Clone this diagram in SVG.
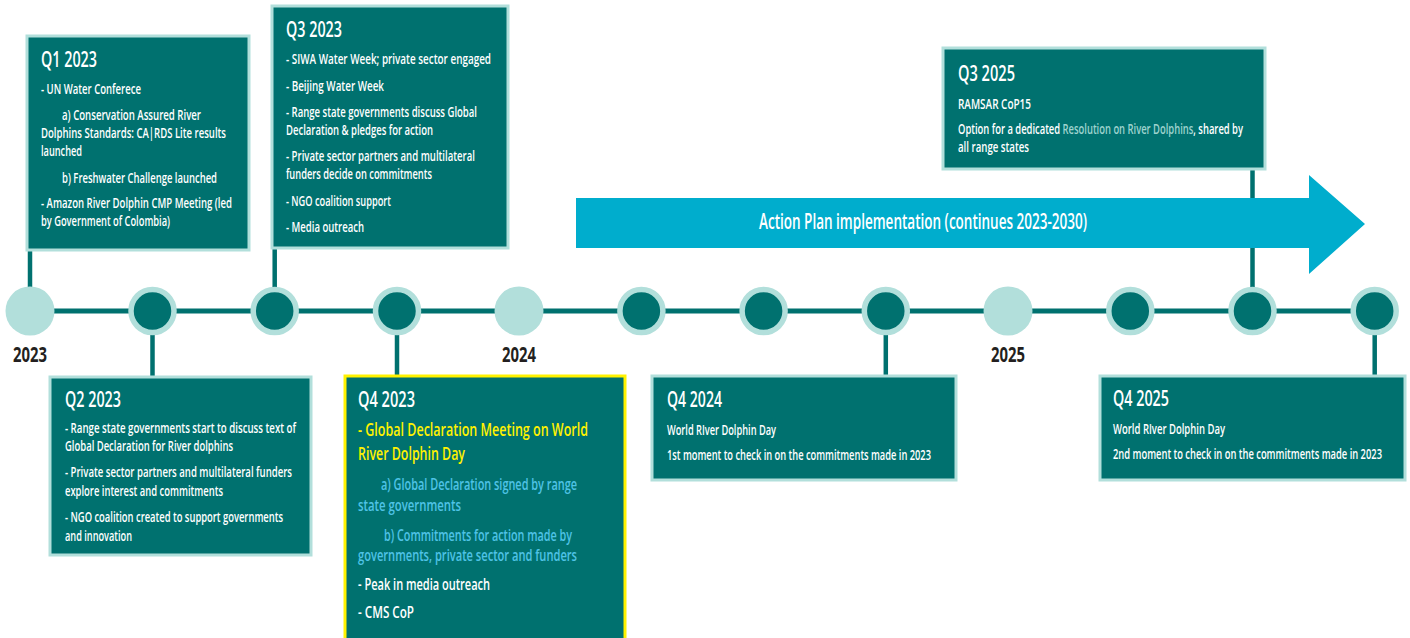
<svg xmlns="http://www.w3.org/2000/svg" width="1410" height="638" viewBox="0 0 1410 638">
<style>
.box{fill:#00716F;stroke:#B2DFDB;stroke-width:3}
.hl{fill:#00716F;stroke:#FFF200;stroke-width:3}
.con{stroke:#00716F;stroke-width:4.5;fill:none}
.axis{stroke:#00716F;stroke-width:5}
.dot{fill:#00716F;stroke:#B2DFDB;stroke-width:5.5}
.yr{fill:#B2DFDB}
text{font-family:"Open Sans","Liberation Sans",Arial,sans-serif;fill:#fff}
.ti{font-size:22px;font-weight:600}
.b{font-size:15px;font-weight:600}
.y{fill:#FFF200;font-size:17.5px;font-weight:600}
.lb{fill:#4FC3E6;font-size:16px;font-weight:600}
.w16{font-size:16px;font-weight:600}
.res{fill:#9ED3CE}
.lab{fill:#231F20;font-size:22px;font-weight:700}
.arr{font-size:21px;font-weight:600}
</style>
<g id="connectors">
<line class="axis" x1="30" y1="311" x2="1375" y2="311"/>
<line class="con" x1="30" y1="250" x2="30" y2="311"/>
<line class="con" x1="152.5" y1="311" x2="152.5" y2="377"/>
<line class="con" x1="274.7" y1="248" x2="274.7" y2="311"/>
<line class="con" x1="397" y1="311" x2="397" y2="376"/>
<line class="con" x1="885.8" y1="311" x2="885.8" y2="376"/>
<line class="con" x1="1252.5" y1="169" x2="1252.5" y2="311"/>
<line class="con" x1="1374.7" y1="311" x2="1374.7" y2="376"/>
</g>
<g id="markers">
<circle class="yr" cx="30" cy="311" r="24.5"/>
<circle class="dot" cx="152.5" cy="311" r="21.5"/>
<circle class="dot" cx="274.7" cy="311" r="21.5"/>
<circle class="dot" cx="397" cy="311" r="21.5"/>
<circle class="yr" cx="519" cy="311" r="24.5"/>
<circle class="dot" cx="641.4" cy="311" r="21.5"/>
<circle class="dot" cx="763.6" cy="311" r="21.5"/>
<circle class="dot" cx="885.8" cy="311" r="21.5"/>
<circle class="yr" cx="1008" cy="311" r="24.5"/>
<circle class="dot" cx="1130.3" cy="311" r="21.5"/>
<circle class="dot" cx="1252.5" cy="311" r="21.5"/>
<circle class="dot" cx="1374.7" cy="311" r="21.5"/>
<text class="lab" x="13" y="362" textLength="34" lengthAdjust="spacingAndGlyphs">2023</text>
<text class="lab" x="502" y="362" textLength="34" lengthAdjust="spacingAndGlyphs">2024</text>
<text class="lab" x="991" y="362" textLength="34" lengthAdjust="spacingAndGlyphs">2025</text>
</g>
<g id="action-plan">
<polygon points="576,198 1309,198 1309,175 1365,224 1309,274 1309,248 576,248" fill="#00ADCD"/>
<text class="arr" x="759" y="229" textLength="328" lengthAdjust="spacingAndGlyphs">Action Plan implementation (continues 2023-2030)</text>
</g>
<g id="q1-2023">
<rect class="box" x="27" y="36" width="222" height="214"/>
<text class="ti" x="41" y="67" textLength="56" lengthAdjust="spacingAndGlyphs">Q1 2023</text>
<text class="b" x="41" y="94" textLength="100" lengthAdjust="spacingAndGlyphs">- UN Water Conferece</text>
<text class="b" x="62" y="120" textLength="139" lengthAdjust="spacingAndGlyphs">a) Conservation Assured River</text>
<text class="b" x="41" y="138" textLength="185" lengthAdjust="spacingAndGlyphs">Dolphins Standards: CA|RDS Lite results</text>
<text class="b" x="41" y="156" textLength="41" lengthAdjust="spacingAndGlyphs">launched</text>
<text class="b" x="62" y="183" textLength="155" lengthAdjust="spacingAndGlyphs">b) Freshwater Challenge launched</text>
<text class="b" x="41" y="208" textLength="191" lengthAdjust="spacingAndGlyphs">- Amazon River Dolphin CMP Meeting (led</text>
<text class="b" x="41" y="226" textLength="129" lengthAdjust="spacingAndGlyphs">by Government of Colombia)</text>
</g>
<g id="q3-2023">
<rect class="box" x="272" y="6" width="236" height="242"/>
<text class="ti" x="286" y="37" textLength="56" lengthAdjust="spacingAndGlyphs">Q3 2023</text>
<text class="b" x="286" y="64" textLength="205" lengthAdjust="spacingAndGlyphs">- SIWA Water Week; private sector engaged</text>
<text class="b" x="286" y="90.7" textLength="98" lengthAdjust="spacingAndGlyphs">- Beijing Water Week</text>
<text class="b" x="286" y="116.7" textLength="191" lengthAdjust="spacingAndGlyphs">- Range state governments discuss Global</text>
<text class="b" x="286" y="135" textLength="147" lengthAdjust="spacingAndGlyphs">Declaration &amp; pledges for action</text>
<text class="b" x="286" y="160.7" textLength="189" lengthAdjust="spacingAndGlyphs">- Private sector partners and multilateral</text>
<text class="b" x="286" y="179.3" textLength="146" lengthAdjust="spacingAndGlyphs">funders decide on commitments</text>
<text class="b" x="286" y="205.7" textLength="105" lengthAdjust="spacingAndGlyphs">- NGO coalition support</text>
<text class="b" x="286" y="231.7" textLength="78" lengthAdjust="spacingAndGlyphs">- Media outreach</text>
</g>
<g id="q2-2023">
<rect class="box" x="50" y="377" width="261" height="178"/>
<text class="ti" x="65" y="407.3" textLength="56" lengthAdjust="spacingAndGlyphs">Q2 2023</text>
<text class="b" x="65" y="433.3" textLength="231" lengthAdjust="spacingAndGlyphs">- Range state governments start to discuss text of</text>
<text class="b" x="65" y="451" textLength="168" lengthAdjust="spacingAndGlyphs">Global Declaration for River dolphins</text>
<text class="b" x="65" y="477.3" textLength="227" lengthAdjust="spacingAndGlyphs">- Private sector partners and multilateral funders</text>
<text class="b" x="65" y="496" textLength="158" lengthAdjust="spacingAndGlyphs">explore interest and commitments</text>
<text class="b" x="65" y="522.3" textLength="218" lengthAdjust="spacingAndGlyphs">- NGO coalition created to support governments</text>
<text class="b" x="65" y="540.7" textLength="67" lengthAdjust="spacingAndGlyphs">and innovation</text>
</g>
<g id="q4-2023">
<rect class="hl" x="345" y="376" width="280" height="272"/>
<text class="ti" x="358" y="406.7" textLength="57" lengthAdjust="spacingAndGlyphs">Q4 2023</text>
<text class="y" x="358" y="436" textLength="230" lengthAdjust="spacingAndGlyphs">- Global Declaration Meeting on World</text>
<text class="y" x="358" y="460" textLength="107" lengthAdjust="spacingAndGlyphs">River Dolphin Day</text>
<text class="lb" x="381" y="490" textLength="196" lengthAdjust="spacingAndGlyphs">a) Global Declaration signed by range</text>
<text class="lb" x="358" y="511" textLength="103" lengthAdjust="spacingAndGlyphs">state governments</text>
<text class="lb" x="384" y="540.7" textLength="188" lengthAdjust="spacingAndGlyphs">b) Commitments for action made by</text>
<text class="lb" x="358" y="560.7" textLength="219" lengthAdjust="spacingAndGlyphs">governments, private sector and funders</text>
<text class="w16" x="358" y="590" textLength="132" lengthAdjust="spacingAndGlyphs">- Peak in media outreach</text>
<text class="w16" x="358" y="618.3" textLength="56" lengthAdjust="spacingAndGlyphs">- CMS CoP</text>
</g>
<g id="q4-2024">
<rect class="box" x="652" y="376" width="304" height="104"/>
<text class="ti" x="667" y="407.3" textLength="55" lengthAdjust="spacingAndGlyphs">Q4 2024</text>
<text class="b" x="667" y="435" textLength="109" lengthAdjust="spacingAndGlyphs">World RIver Dolphin Day</text>
<text class="b" x="667" y="460" textLength="264" lengthAdjust="spacingAndGlyphs">1st moment to check in on the commitments made in 2023</text>
</g>
<g id="q3-2025">
<rect class="box" x="943" y="48" width="322" height="121"/>
<text class="ti" x="958" y="80.7" textLength="57" lengthAdjust="spacingAndGlyphs">Q3 2025</text>
<text class="b" x="958" y="109.3" textLength="73" lengthAdjust="spacingAndGlyphs">RAMSAR CoP15</text>
<text class="b" x="958" y="134" textLength="285" lengthAdjust="spacingAndGlyphs">Option for a dedicated <tspan class="res">Resolution on River Dolphins</tspan>, shared by</text>
<text class="b" x="958" y="151.7" textLength="71" lengthAdjust="spacingAndGlyphs">all range states</text>
</g>
<g id="q4-2025">
<rect class="box" x="1100" y="376" width="305" height="104"/>
<text class="ti" x="1113" y="405.7" textLength="56" lengthAdjust="spacingAndGlyphs">Q4 2025</text>
<text class="b" x="1113" y="434" textLength="112" lengthAdjust="spacingAndGlyphs">World RIver Dolphin Day</text>
<text class="b" x="1113" y="459.3" textLength="269" lengthAdjust="spacingAndGlyphs">2nd moment to check in on the commitments made in 2023</text>
</g>
</svg>
